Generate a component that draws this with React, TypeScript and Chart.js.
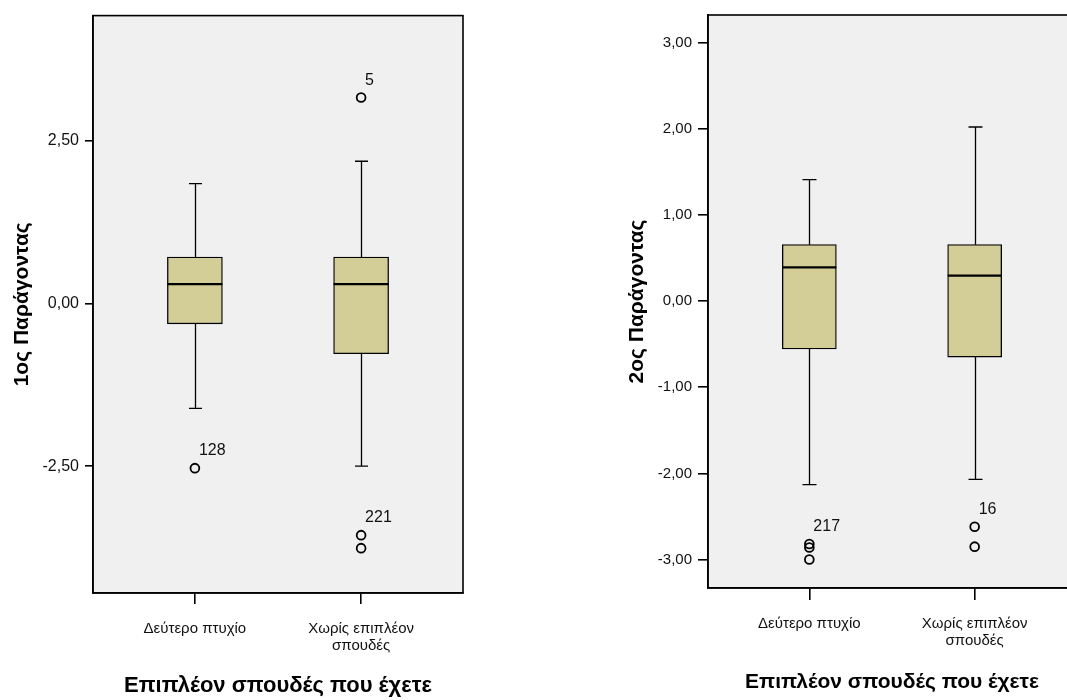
import React, { useEffect, useRef } from "react";
import { Chart, registerables } from "chart.js";

Chart.register(...registerables);

// ---------- data ----------
const categories = [["Δεύτερο πτυχίο"], ["Χωρίς επιπλέον", "σπουδές"]];
const categoryIndex = [0, 1];
const xTitle = "Επιπλέον σπουδές που έχετε";

const f1Title = "1ος Παράγοντας";
const f1Min = [-1.61, -2.5];
const f1Q1 = [-0.31, -0.77];
const f1Median = [0.3, 0.3];
const f1Q3 = [0.716, 0.716];
const f1Max = [1.845, 2.19];
const f1Outliers = [[-2.53], [3.17, -3.56, -3.76]];
const f1OutlierIds = [["128"], ["5", "221", ""]];
const f1TickValues = [-2.5, 0, 2.5];
const f1TickLabels = ["-2,50", "0,00", "2,50"];

const f2Title = "2ος Παράγοντας";
const f2Min = [-2.13, -2.07];
const f2Q1 = [-0.555, -0.65];
const f2Median = [0.39, 0.296];
const f2Q3 = [0.655, 0.655];
const f2Max = [1.41, 2.02];
const f2Outliers = [[-2.82, -2.86, -3.0], [-2.62, -2.85]];
const f2OutlierIds = [["217", "", ""], ["16", ""]];
const f2TickValues = [-3, -2, -1, 0, 1, 2, 3];
const f2TickLabels = ["-3,00", "-2,00", "-1,00", "0,00", "1,00", "2,00", "3,00"];

// ---------- styles ----------
const FONT = "'Liberation Sans', Arial, sans-serif";
const BOX_FILL = "#D3CE97";
const PLOT_BG = "#F0F0F0";

type Panel = {
  title: string;
  min: number[];
  q1: number[];
  median: number[];
  q3: number[];
  max: number[];
  outliers: number[][];
  ids: string[][];
  tickValues: number[];
  tickLabels: string[];
  yMin: number;
  yMax: number;
  // layout
  left: number;
  width: number;
  padTop: number;
  padRight: number;
  yAxisWidth: number;
  xAxisHeight: number;
  yTitlePad: number;
  yTickLen: number;
  yTickSize: number;
  xTickLen: number;
  xTickPad: number;
  xTitlePad: number;
  xTitleSize: number;
  boxWidth: number;
  capWidth: number;
};

function boxPlugin(p: Panel) {
  return {
    id: "boxwhisker",
    beforeDraw(chart: any) {
      const a = chart.chartArea;
      const ctx = chart.ctx;
      ctx.save();
      ctx.fillStyle = PLOT_BG;
      ctx.fillRect(a.left, a.top, a.right - a.left, a.bottom - a.top);
      ctx.restore();
    },
    beforeDatasetsDraw(chart: any) {
      const ctx = chart.ctx;
      const xs = chart.scales.x;
      const ys = chart.scales.y;
      ctx.save();
      ctx.strokeStyle = "#000";
      ctx.lineWidth = 1.3;
      categoryIndex.forEach((i) => {
        const x = Math.round(xs.getPixelForValue(i)) + 0.5;
        const yTop = ys.getPixelForValue(p.max[i]);
        const yQ3 = ys.getPixelForValue(p.q3[i]);
        const yQ1 = ys.getPixelForValue(p.q1[i]);
        const yBot = ys.getPixelForValue(p.min[i]);
        ctx.beginPath();
        ctx.moveTo(x, yTop);
        ctx.lineTo(x, yQ3);
        ctx.moveTo(x, yQ1);
        ctx.lineTo(x, yBot);
        ctx.moveTo(x - p.capWidth / 2, yTop);
        ctx.lineTo(x + p.capWidth / 2, yTop);
        ctx.moveTo(x - p.capWidth / 2, yBot);
        ctx.lineTo(x + p.capWidth / 2, yBot);
        ctx.stroke();
      });
      ctx.restore();
    },
    afterDatasetsDraw(chart: any) {
      const ctx = chart.ctx;
      const xs = chart.scales.x;
      const ys = chart.scales.y;
      const a = chart.chartArea;
      ctx.save();
      ctx.strokeStyle = "#000";
      ctx.lineWidth = 2.2;
      categoryIndex.forEach((i) => {
        const x = xs.getPixelForValue(i);
        const y = ys.getPixelForValue(p.median[i]);
        ctx.beginPath();
        ctx.moveTo(x - p.boxWidth / 2, y);
        ctx.lineTo(x + p.boxWidth / 2, y);
        ctx.stroke();
      });
      ctx.fillStyle = "#111";
      ctx.font = `16px ${FONT}`;
      ctx.textAlign = "left";
      ctx.textBaseline = "alphabetic";
      categoryIndex.forEach((i) => {
        p.outliers[i].forEach((v, k) => {
          const id = p.ids[i][k];
          if (!id) return;
          const x = xs.getPixelForValue(i);
          const y = ys.getPixelForValue(v);
          ctx.fillText(id, x + 4, y - 13);
        });
      });
      ctx.lineWidth = 1.6;
      ctx.strokeRect(a.left, a.top, a.right - a.left, a.bottom - a.top);
      ctx.restore();
    },
  };
}

function BoxChart({ p }: { p: Panel }) {
  const ref = useRef<HTMLCanvasElement | null>(null);
  useEffect(() => {
    if (!ref.current) return;
    const boxData = categoryIndex.map((i) => ({ x: i, y: [p.q1[i], p.q3[i]] }));
    const outlierData: { x: number; y: number }[] = [];
    categoryIndex.forEach((i) => p.outliers[i].forEach((v) => outlierData.push({ x: i, y: v })));
    const chart = new Chart(ref.current, {
      type: "bar",
      data: {
        datasets: [
          {
            type: "bar",
            data: boxData as any,
            backgroundColor: BOX_FILL,
            borderColor: "#000",
            borderWidth: 1.3,
            borderSkipped: false,
            barThickness: p.boxWidth,
            order: 2,
          } as any,
          {
            type: "line",
            data: outlierData as any,
            showLine: false,
            pointRadius: 4.4,
            pointHoverRadius: 4.4,
            pointBorderWidth: 1.8,
            pointBorderColor: "#000",
            pointBackgroundColor: "rgba(0,0,0,0)",
            order: 1,
          } as any,
        ],
      },
      options: {
        responsive: false,
        animation: false,
        events: [],
        layout: { padding: { left: 0, top: p.padTop, right: p.padRight, bottom: 0 } },
        plugins: { legend: { display: false }, tooltip: { enabled: false } },
        scales: {
          x: {
            type: "linear",
            offset: false,
            min: -0.613,
            max: 1.613,
            afterBuildTicks: (s: any) => {
              s.ticks = categoryIndex.map((v) => ({ value: v }));
            },
            afterFit: (s: any) => {
              s.height = p.xAxisHeight;
            },
            grid: {
              display: true,
              offset: false,
              drawOnChartArea: false,
              drawTicks: true,
              tickLength: p.xTickLen,
              color: "#000",
              lineWidth: 1.6,
            },
            border: { display: true, color: "#000", width: 1.6 },
            ticks: {
              color: "#111",
              font: { family: FONT, size: 15, lineHeight: 1.15 },
              padding: p.xTickPad,
              maxRotation: 0,
              autoSkip: false,
              callback: (_v: any, i: number) => categories[i],
            },
            title: {
              display: true,
              text: xTitle,
              color: "#000",
              font: { family: FONT, size: p.xTitleSize, weight: "bold" },
              padding: { top: 0, bottom: p.xTitlePad },
            },
          } as any,
          y: {
            type: "linear",
            min: p.yMin,
            max: p.yMax,
            afterBuildTicks: (s: any) => {
              s.ticks = p.tickValues.map((v) => ({ value: v }));
            },
            afterFit: (s: any) => {
              s.width = p.yAxisWidth;
            },
            grid: {
              display: true,
              drawOnChartArea: false,
              drawTicks: true,
              tickLength: p.yTickLen,
              color: "#000",
              lineWidth: 1.6,
            },
            border: { display: true, color: "#000", width: 1.6 },
            ticks: {
              color: "#111",
              font: { family: FONT, size: p.yTickSize },
              padding: 6,
              callback: (_v: any, i: number) => p.tickLabels[i],
            },
            title: {
              display: true,
              text: p.title,
              color: "#000",
              font: { family: FONT, size: 21, weight: "bold" },
              padding: { top: p.yTitlePad, bottom: 0 },
            },
          } as any,
        },
      },
      plugins: [boxPlugin(p) as any],
    });
    return () => chart.destroy();
  }, [p]);
  return (
    <canvas
      ref={ref}
      width={p.width}
      height={700}
      style={{ position: "absolute", left: p.left, top: 0, width: p.width, height: 700 }}
    />
  );
}

const panel1: Panel = {
  title: f1Title,
  min: f1Min,
  q1: f1Q1,
  median: f1Median,
  q3: f1Q3,
  max: f1Max,
  outliers: f1Outliers,
  ids: f1OutlierIds,
  tickValues: f1TickValues,
  tickLabels: f1TickLabels,
  yMin: -4.45,
  yMax: 4.43,
  left: 0,
  width: 533,
  padTop: 14,
  padRight: 70,
  yAxisWidth: 93,
  xAxisHeight: 107,
  yTitlePad: 10,
  yTickLen: 8,
  yTickSize: 16,
  xTickLen: 11,
  xTickPad: 16,
  xTitlePad: 1,
  xTitleSize: 22,
  boxWidth: 55,
  capWidth: 13,
};

const panel2: Panel = {
  title: f2Title,
  min: f2Min,
  q1: f2Q1,
  median: f2Median,
  q3: f2Q3,
  max: f2Max,
  outliers: f2Outliers,
  ids: f2OutlierIds,
  tickValues: f2TickValues,
  tickLabels: f2TickLabels,
  yMin: -3.33,
  yMax: 3.32,
  left: 533,
  width: 580,
  padTop: 14,
  padRight: 37,
  yAxisWidth: 175,
  xAxisHeight: 112,
  yTitlePad: 92,
  yTickLen: 10,
  yTickSize: 15,
  xTickLen: 12,
  xTickPad: 15,
  xTitlePad: 5,
  xTitleSize: 21,
  boxWidth: 54,
  capWidth: 14,
};

export default function App() {
  return (
    <div
      style={{
        position: "fixed",
        left: 0,
        top: 0,
        width: 1067,
        height: 700,
        overflow: "hidden",
        background: "#fff",
      }}
    >
      <BoxChart p={panel1} />
      <BoxChart p={panel2} />
    </div>
  );
}
